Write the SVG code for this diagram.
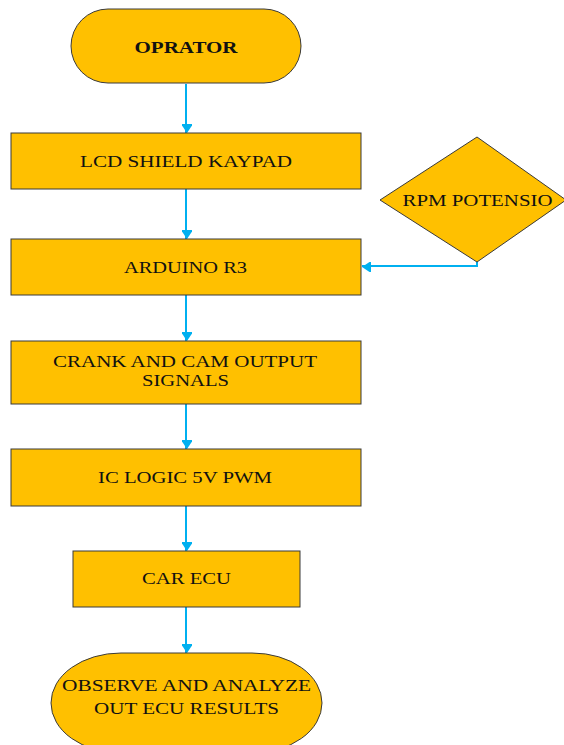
<svg xmlns="http://www.w3.org/2000/svg" width="564" height="745" viewBox="0 0 564 745">
  <style>
    .shape { fill: #FFC000; stroke: #3a3a3a; stroke-width: 1; }
    .label { font-family: "Liberation Serif", "Times New Roman", serif; font-size: 17px; fill: #111; text-anchor: middle; }
    .bold { font-weight: bold; }
    .conn { fill: none; stroke: #00B0F0; stroke-width: 2; marker-end: url(#arrow); }
  </style>
  <defs>
    <marker id="arrow" markerUnits="userSpaceOnUse" markerWidth="14" markerHeight="10" refX="9" refY="6" orient="auto">
      <path d="M0,0 L9,6 L0,12 Z" fill="#00B0F0" transform="translate(0,-1)"/>
    </marker>
  </defs>
  <rect width="564" height="745" fill="#ffffff"/>

  <g id="connectors">
    <path class="conn" d="M186,84 V133"/>
    <path class="conn" d="M186,189 V239"/>
    <path class="conn" d="M186,295 V341"/>
    <path class="conn" d="M186,404 V449"/>
    <path class="conn" d="M186,506 V551"/>
    <path class="conn" d="M186,607 V653"/>
    <path class="conn" d="M477,262 V266 H362"/>
  </g>

  <g id="operator">
    <rect class="shape" x="71" y="9" width="230" height="74" rx="37" ry="37"/>
    <text class="label bold" x="186" y="52.5" textLength="103" lengthAdjust="spacingAndGlyphs">OPRATOR</text>
  </g>

  <g id="lcd-shield">
    <rect class="shape" x="11" y="133" width="350" height="56"/>
    <text class="label" x="186" y="167" textLength="212" lengthAdjust="spacingAndGlyphs">LCD SHIELD KAYPAD</text>
  </g>

  <g id="rpm-potensio">
    <polygon class="shape" points="477,137 566,200 477,262 380,200"/>
    <text class="label" x="477.5" y="206" textLength="150" lengthAdjust="spacingAndGlyphs">RPM POTENSIO</text>
  </g>

  <g id="arduino">
    <rect class="shape" x="11" y="239" width="350" height="56"/>
    <text class="label" x="185.5" y="272.5" textLength="123" lengthAdjust="spacingAndGlyphs">ARDUINO R3</text>
  </g>

  <g id="crank-cam">
    <rect class="shape" x="11" y="341" width="350" height="63"/>
    <text class="label" x="185" y="367" textLength="264" lengthAdjust="spacingAndGlyphs">CRANK AND CAM OUTPUT</text>
    <text class="label" x="185.5" y="385.5" textLength="87" lengthAdjust="spacingAndGlyphs">SIGNALS</text>
  </g>

  <g id="ic-logic">
    <rect class="shape" x="11" y="449" width="350" height="57"/>
    <text class="label" x="185" y="483" textLength="174" lengthAdjust="spacingAndGlyphs">IC LOGIC 5V PWM</text>
  </g>

  <g id="car-ecu">
    <rect class="shape" x="73" y="551" width="227" height="56"/>
    <text class="label" x="186.5" y="584" textLength="89" lengthAdjust="spacingAndGlyphs">CAR ECU</text>
  </g>

  <g id="observe">
    <rect class="shape" x="51" y="653" width="271" height="100" rx="70" ry="50"/>
    <text class="label" x="186.5" y="691" textLength="249" lengthAdjust="spacingAndGlyphs">OBSERVE AND ANALYZE</text>
    <text class="label" x="186.5" y="714" textLength="185" lengthAdjust="spacingAndGlyphs">OUT ECU RESULTS</text>
  </g>
</svg>
